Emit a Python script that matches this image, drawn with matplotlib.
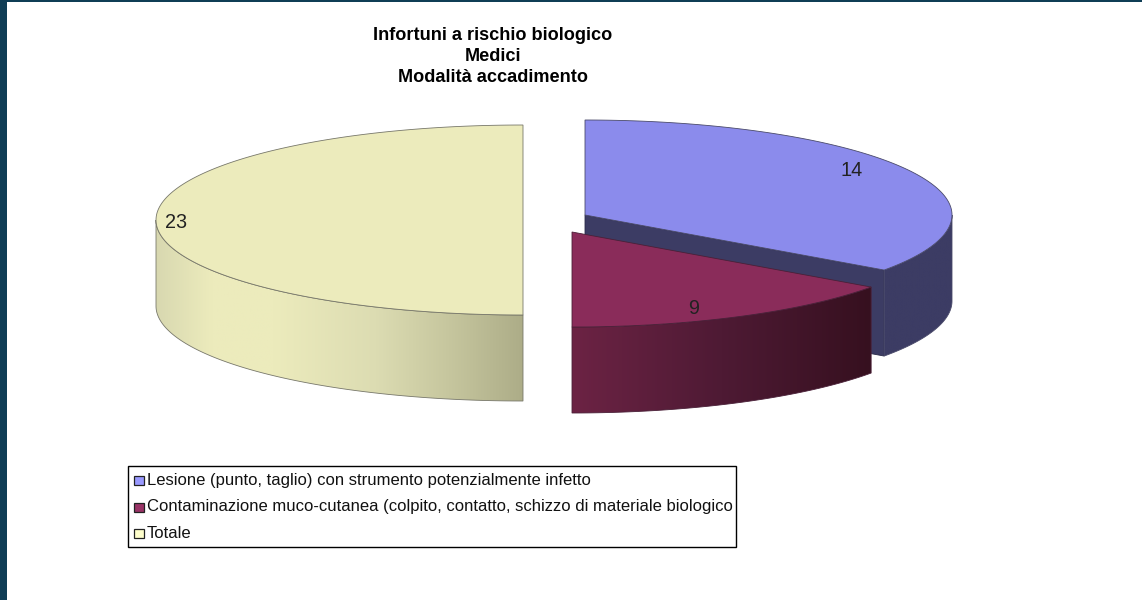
import numpy as np
import matplotlib.pyplot as plt
from matplotlib.colors import LinearSegmentedColormap
from matplotlib.patches import Polygon, Rectangle

plt.rcParams['font.family'] = ['Liberation Sans', 'DejaVu Sans']

# data
title_lines = ['Infortuni a rischio biologico', 'Medici', 'Modalità accadimento']
categories = ['Lesione (punto, taglio) con strumento potenzialmente infetto',
              'Contaminazione muco-cutanea (colpito, contatto, schizzo di materiale biologico',
              'Totale']
values = [14, 9, 23]

# one entry per slice, same order as values
centers = [(585, 215), (572, 232), (523, 220)]
top_colors = ['#8b8bec', '#8a2c5a', '#ecebbc']
legend_colors = ['#9999ff', '#993366', '#ffffcc']
edge_colors = ['#4a4a6a', '#4a2038', '#77776a']
wall_stops = [[(0, '#3c3c64'), (1, '#3c3c64')],
              [(0, '#6c2344'), (0.5, '#4e1a34'), (1, '#36101f')],
              [(0, '#d8d8b0'), (0.15, '#ecebbc'), (0.32, '#ecebbc'),
               (0.6, '#dcdcb2'), (0.8, '#c6c69e'), (1, '#adad88')]]
label_pos = [(852, 171), (694, 308), (176, 222)]

RX, RY = 367, 95
DEPTH = 86
SQUEEZE = 0.5  # the tilted view bunches up the sides of the disc


def view_angle(a):
    # true slice angle -> angle around the drawn ellipse
    raw = np.arctan2(SQUEEZE * np.sin(a), np.cos(a))
    return raw + np.round((a - raw) / (2 * np.pi)) * 2 * np.pi


def arc(center, a0, a1, dy=0):
    t = np.linspace(a0, a1, 150)
    return np.column_stack([center[0] + RX * np.sin(t), center[1] - RY * np.cos(t) + dy])


fig = plt.figure(figsize=(11.42, 6), dpi=100, facecolor='white')
ax = fig.add_axes([0, 0, 1, 1])

edges = np.cumsum([0] + values) / sum(values) * 2 * np.pi

# far slices first, the front one overlaps them
for z, i in enumerate([2, 0, 1]):
    c = centers[i]
    a0, a1 = view_angle(edges[i]), view_angle(edges[i + 1])
    top = arc(c, a0, a1)

    # cut face, only the first slice shows one
    if i == 0:
        end = top[-1]
        ax.add_patch(Polygon([c, end, (end[0], end[1] + DEPTH), (c[0], c[1] + DEPTH)],
                             fc=wall_stops[0][0][1], ec='#2a2a48', lw=0.6, zorder=2 + 3 * z))

    # outer wall on the front half of the disc
    w0, w1 = max(a0, np.pi / 2), min(a1, 3 * np.pi / 2)
    upper = arc(c, w0, w1)
    lower = arc(c, w0, w1, DEPTH)
    outline = np.vstack([upper, lower[::-1]])
    wall = Polygon(outline, fc='none', ec=edge_colors[i], lw=0.6, zorder=3 + 3 * z)
    ax.add_patch(wall)
    cmap = LinearSegmentedColormap.from_list('wall%d' % i, wall_stops[i])
    im = ax.imshow(np.linspace(0, 1, 256)[None, :], cmap=cmap,
                   extent=(outline[:, 0].min(), outline[:, 0].max(), outline[:, 1].max(), outline[:, 1].min()),
                   aspect='auto', zorder=2.5 + 3 * z)
    im.set_clip_path(wall)

    ax.add_patch(Polygon(np.vstack([[c], top]), fc=top_colors[i], ec=edge_colors[i], lw=0.6, zorder=4 + 3 * z))

for v, (lx, ly) in zip(values, label_pos):
    ax.text(lx, ly, str(v), fontsize=14.3, color='#222222', ha='center', va='center', zorder=20)

for line, y in zip(title_lines, [35.5, 56.5, 77.5]):
    ax.text(493, y, line, fontsize=13.1, fontweight='bold', color='black', ha='center', va='center')

# legend box
ax.add_patch(Rectangle((128, 466), 608, 81, fc='white', ec='black', lw=1))
for name, col, y in zip(categories, legend_colors, [480, 507, 533]):
    ax.add_patch(Rectangle((134, y - 4), 10, 9, fc=col, ec='#222222', lw=0.9))
    ax.text(147, y, name, fontsize=12.0, color='#111111', va='center')

# page edge
ax.add_patch(Rectangle((0, 0), 7, 600, fc='#0f3d55', ec='none'))
ax.add_patch(Rectangle((0, 0), 1142, 2, fc='#0f3d55', ec='none'))

ax.set_xlim(0, 1142)
ax.set_ylim(600, 0)
ax.axis('off')

fig.savefig('out.png', dpi=100)
